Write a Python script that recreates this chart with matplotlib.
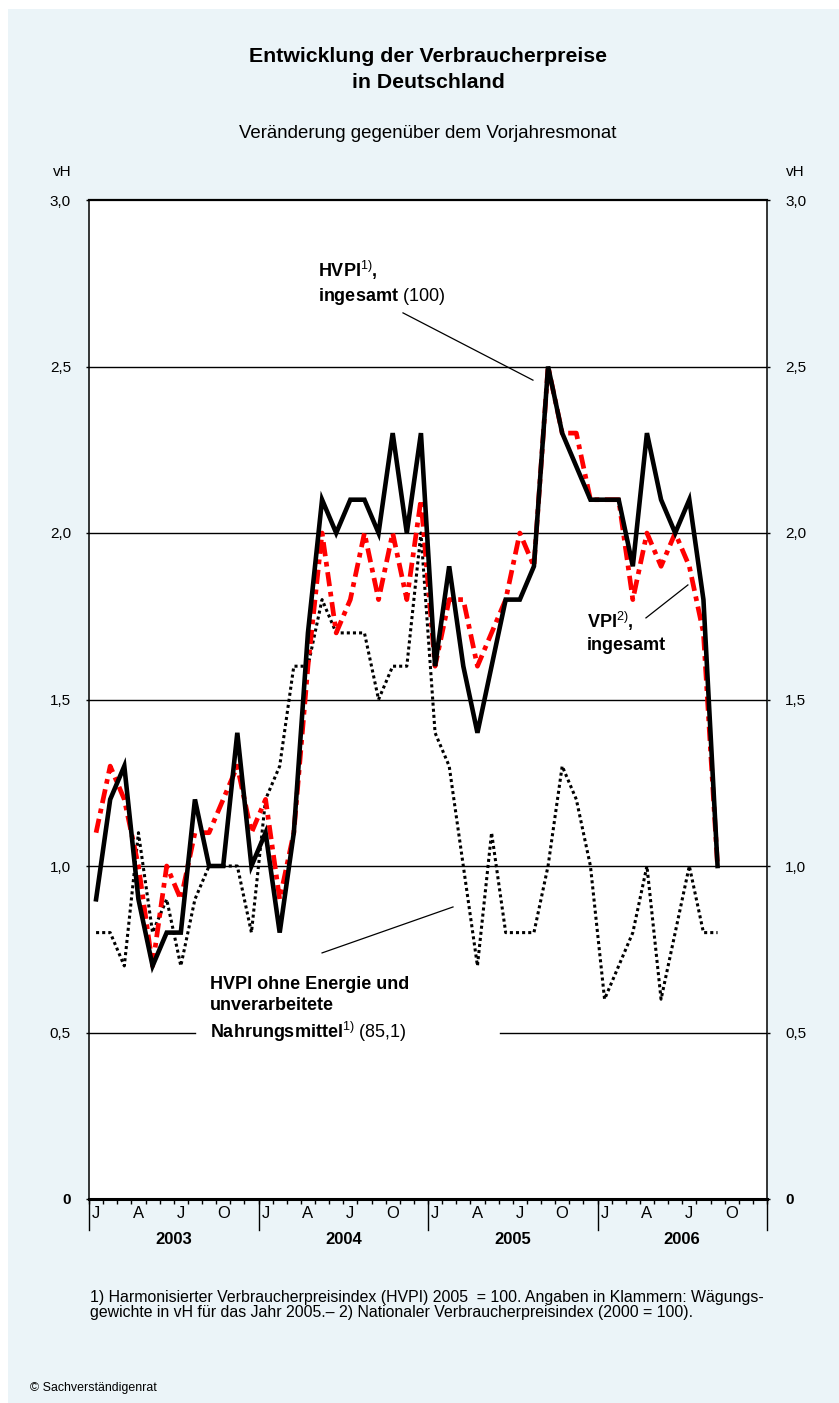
import matplotlib
matplotlib.use('Agg')
import matplotlib.pyplot as plt
from matplotlib.patches import Rectangle
import numpy as np

plt.rcParams['font.family'] = ['Liberation Sans', 'DejaVu Sans']
plt.rcParams['mathtext.fontset'] = 'custom'
plt.rcParams['mathtext.rm'] = 'Liberation Sans'
plt.rcParams['mathtext.bf'] = 'Liberation Sans:bold'
plt.rcParams['mathtext.it'] = 'Liberation Sans:italic'

# Monthly year-on-year changes in vH, Jan 2003 .. Sep 2006
hvpi = [0.9, 1.2, 1.3, 0.9, 0.7, 0.8, 0.8, 1.2, 1.0, 1.0, 1.4, 1.0,
        1.1, 0.8, 1.1, 1.7, 2.1, 2.0, 2.1, 2.1, 2.0, 2.3, 2.0, 2.3,
        1.6, 1.9, 1.6, 1.4, 1.6, 1.8, 1.8, 1.9, 2.5, 2.3, 2.2, 2.1,
        2.1, 2.1, 1.9, 2.3, 2.1, 2.0, 2.1, 1.8, 1.0]
vpi = [1.1, 1.3, 1.2, 1.0, 0.7, 1.0, 0.9, 1.1, 1.1, 1.2, 1.3, 1.1,
       1.2, 0.9, 1.1, 1.6, 2.0, 1.7, 1.8, 2.0, 1.8, 2.0, 1.8, 2.1,
       1.6, 1.8, 1.8, 1.6, 1.7, 1.8, 2.0, 1.9, 2.5, 2.3, 2.3, 2.1,
       2.1, 2.1, 1.8, 2.0, 1.9, 2.0, 1.9, 1.7, 1.0]
kern = [0.8, 0.8, 0.7, 1.1, 0.8, 0.9, 0.7, 0.9, 1.0, 1.0, 1.0, 0.8,
        1.2, 1.3, 1.6, 1.6, 1.8, 1.7, 1.7, 1.7, 1.5, 1.6, 1.6, 2.0,
        1.4, 1.3, 1.0, 0.7, 1.1, 0.8, 0.8, 0.8, 1.0, 1.3, 1.2, 1.0,
        0.6, 0.7, 0.8, 1.0, 0.6, 0.8, 1.0, 0.8, 0.8]

years = ['2003', '2004', '2005', '2006']
month_letters = ['J', 'A', 'J', 'O']
yticks = [0, 0.5, 1.0, 1.5, 2.0, 2.5, 3.0]
ytick_labels = ['0', '0,5', '1,0', '1,5', '2,0', '2,5', '3,0']

fig = plt.figure(figsize=(8.39, 14.03), dpi=100)
fig.patch.set_facecolor('white')
fig.patches.append(Rectangle((8 / 839, 0), 1, 1 - 9 / 1403, transform=fig.transFigure,
                             facecolor='#EBF4F8', edgecolor='none', zorder=-1))

ax = fig.add_axes([89 / 839, 1 - 1199 / 1403, 678 / 839, 999 / 1403])
ax.set_zorder(1)
ax.set_facecolor('white')

x = np.arange(len(hvpi))
ax.plot(x, kern, color='black', lw=2.2, linestyle=(0, (1, 1)), zorder=3)
ax.plot(x, vpi, color='#FF0000', lw=3.4, linestyle=(0, (3.0, 1.2, 1.0, 1.2)), zorder=4)
ax.plot(x, hvpi, color='black', lw=3.3, solid_joinstyle='miter', zorder=5)

nmon = 12 * len(years)
ax.set_xlim(-0.5, nmon - 0.5)
ax.set_ylim(0, 3.0)

# gridlines (0,5 line interrupted by the label)
for g in [1.0, 1.5, 2.0, 2.5]:
    ax.axhline(g, color='black', lw=1.0, zorder=1)
ax.axhline(0.5, xmin=0, xmax=(195 - 89) / 678, color='black', lw=1.0, zorder=1)
ax.axhline(0.5, xmin=(500 - 89) / 678, xmax=1, color='black', lw=1.0, zorder=1)

for s in ['left', 'right']:
    ax.spines[s].set_linewidth(1.1)
ax.spines['top'].set_linewidth(1.6)
ax.spines['bottom'].set_linewidth(2.2)

ax.set_yticks(yticks)
ax.set_yticklabels(ytick_labels)
ax.tick_params(axis='y', which='major', direction='out', length=2, width=1,
               labelsize=11, pad=11, left=True, right=True, labelleft=True, labelright=True)
for t in ax.yaxis.get_major_ticks()[:1]:
    t.label1.set_fontweight('bold')
    t.label2.set_fontweight('bold')

ax.set_xticks([])
ax.set_xticks(np.arange(-0.5, nmon, 1), minor=True)
ax.tick_params(axis='x', which='minor', direction='out', length=3.5, width=1)

trans = ax.get_xaxis_transform()
for k in range(len(years) + 1):
    b = 12 * k - 0.5
    ax.plot([b, b], [0, -31 / 999], color='black', lw=1.0, transform=trans, clip_on=False)
for k, yr in enumerate(years):
    for j, m in enumerate(month_letters):
        ax.text(12 * k + 3 * j, -14 / 999, m, transform=trans, ha='center', va='center',
                fontsize=12)
    ax.text(12 * k + 5.5, -40 / 999, yr, transform=trans, ha='center', va='center',
            fontsize=12, fontweight='bold')

ax.text(-27 / 678, 1027 / 999, 'vH', transform=ax.transAxes, ha='center', va='center', fontsize=11)
ax.text(1 + 28 / 678, 1027 / 999, 'vH', transform=ax.transAxes, ha='center', va='center', fontsize=11)

# series labels with leader lines
ax.text(15.7, 2.751, 'HVPI$^{1)}$,\ningesamt $\\mathrm{(100)}$', ha='left', va='center',
        fontsize=13, fontweight='bold', linespacing=1.3, zorder=6)
ax.plot([21.73, 30.93], [2.661, 2.459], color='black', lw=0.9, zorder=6)

ax.text(34.76, 1.703, 'VPI$^{2)}$,\ningesamt', ha='left', va='center',
        fontsize=13, fontweight='bold', linespacing=1.3, zorder=6)
ax.plot([38.93, 41.9], [1.745, 1.844], color='black', lw=0.9, zorder=6)

ax.text(8.07, 0.568, 'HVPI ohne Energie und\nunverarbeitete\nNahrungsmittel$^{1)}$ $\\mathrm{(85{,}1)}$',
        ha='left', va='center', fontsize=13, fontweight='bold', linespacing=1.33, zorder=6)
ax.plot([16.0, 25.27], [0.739, 0.877], color='black', lw=0.9, zorder=6)

fig.text(428 / 839, 1 - 69.5 / 1403, 'Entwicklung der Verbraucherpreise\nin Deutschland',
         ha='center', va='center', fontsize=15.3, fontweight='bold', linespacing=1.5)
fig.text(428 / 839, 1 - 134 / 1403, 'Veränderung gegenüber dem Vorjahresmonat',
         ha='center', va='center', fontsize=13.4)

fig.text(90 / 839, 1 - 1305 / 1403,
         '1) Harmonisierter Verbraucherpreisindex (HVPI) 2005  = 100. Angaben in Klammern: Wägungs-\n'
         'gewichte in vH für das Jahr 2005.– 2) Nationaler Verbraucherpreisindex (2000 = 100).',
         ha='left', va='center', fontsize=11.4, linespacing=1.08)
fig.text(30 / 839, 1 - 1388 / 1403, '© Sachverständigenrat', ha='left', va='center', fontsize=8.9)

fig.savefig('out.png', dpi=100, facecolor=fig.get_facecolor())
